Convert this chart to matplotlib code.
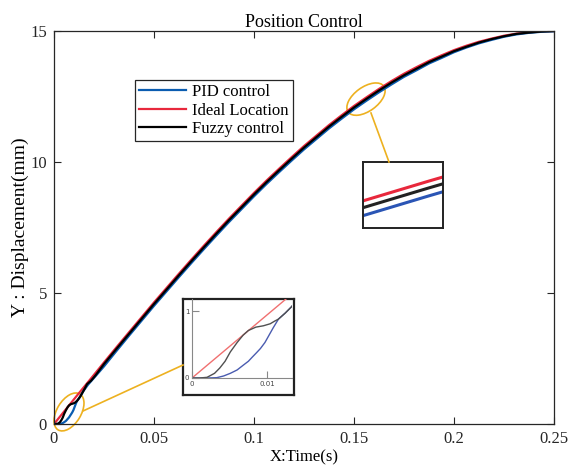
import matplotlib
matplotlib.use("Agg")
import matplotlib.pyplot as plt
from matplotlib.patches import Ellipse
from matplotlib.lines import Line2D
from matplotlib.transforms import ScaledTranslation

plt.rcParams["font.family"] = ["Liberation Serif", "DejaVu Serif"]

# ---- values ----
t_ideal = [0, 0.00625, 0.0125, 0.01875, 0.025, 0.03125, 0.0375, 0.04375,
           0.05, 0.05625, 0.0625, 0.06875, 0.075, 0.08125, 0.0875, 0.09375,
           0.1, 0.10625, 0.1125, 0.11875, 0.125, 0.13125, 0.1375, 0.14375,
           0.15, 0.15625, 0.1625, 0.16875, 0.175, 0.18125, 0.1875, 0.19375,
           0.2, 0.20625, 0.2125, 0.21875, 0.225, 0.23125, 0.2375, 0.24375,
           0.25]
ideal_mm = [0, 0.59, 1.18, 1.76, 2.35, 2.93, 3.50, 4.07,
            4.64, 5.19, 5.74, 6.28, 6.81, 7.33, 7.84, 8.33,
            8.82, 9.29, 9.74, 10.18, 10.61, 11.01, 11.41, 11.78,
            12.14, 12.47, 12.79, 13.09, 13.37, 13.62, 13.86, 14.07,
            14.27, 14.44, 14.59, 14.71, 14.82, 14.90, 14.95, 14.99,
            15.00]

t_fuzzy = [0, 0.001, 0.002, 0.003, 0.0037, 0.0044, 0.0051, 0.006, 0.0068,
           0.0075, 0.0085, 0.0095, 0.0104, 0.011, 0.0115, 0.0124, 0.0132,
           0.015, 0.0165, 0.0185, 0.021, 0.025, 0.03125, 0.0375, 0.04375,
           0.05, 0.05625, 0.0625, 0.06875, 0.075, 0.08125, 0.0875, 0.09375,
           0.1, 0.10625, 0.1125, 0.11875, 0.125, 0.13125, 0.1375, 0.14375,
           0.15, 0.15625, 0.1625, 0.16875, 0.175, 0.18125, 0.1875, 0.19375,
           0.2, 0.20625, 0.2125, 0.21875, 0.225, 0.23125, 0.2375, 0.24375,
           0.25]
fuzzy_mm = [0, 0, 0.01, 0.07, 0.15, 0.25, 0.39, 0.53, 0.64,
            0.71, 0.76, 0.78, 0.81, 0.85, 0.88, 0.97, 1.06,
            1.30, 1.52, 1.65, 1.88, 2.29, 2.87, 3.44, 4.01,
            4.58, 5.13, 5.68, 6.22, 6.75, 7.27, 7.78, 8.27,
            8.76, 9.23, 9.68, 10.12, 10.55, 10.95, 11.35, 11.72,
            12.08, 12.41, 12.73, 13.03, 13.31, 13.56, 13.81, 14.02,
            14.23, 14.40, 14.56, 14.69, 14.80, 14.89, 14.94, 14.98,
            15.00]

t_pid = [0, 0.002, 0.0033, 0.0042, 0.0051, 0.006, 0.0068, 0.0075, 0.008,
         0.0086, 0.0091, 0.0097, 0.0102, 0.0108, 0.0115, 0.0124, 0.0132,
         0.0147, 0.017, 0.02, 0.025, 0.03125, 0.0375, 0.04375,
         0.05, 0.05625, 0.0625, 0.06875, 0.075, 0.08125, 0.0875, 0.09375,
         0.1, 0.10625, 0.1125, 0.11875, 0.125, 0.13125, 0.1375, 0.14375,
         0.15, 0.15625, 0.1625, 0.16875, 0.175, 0.18125, 0.1875, 0.19375,
         0.2, 0.20625, 0.2125, 0.21875, 0.225, 0.23125, 0.2375, 0.24375,
         0.25]
pid_mm = [0, 0, 0.005, 0.03, 0.07, 0.12, 0.19, 0.25, 0.31,
          0.38, 0.44, 0.53, 0.63, 0.75, 0.88, 0.97, 1.06,
          1.26, 1.50, 1.76, 2.20, 2.79, 3.37, 3.94,
          4.51, 5.06, 5.61, 6.15, 6.68, 7.20, 7.71, 8.20,
          8.69, 9.16, 9.61, 10.05, 10.48, 10.88, 11.28, 11.65,
          12.01, 12.34, 12.66, 12.96, 13.25, 13.50, 13.76, 13.97,
          14.19, 14.37, 14.53, 14.66, 14.78, 14.87, 14.93, 14.97,
          14.99]

x_ticks = [0, 0.05, 0.1, 0.15, 0.2, 0.25]
x_ticklabels = ["0", "0.05", "0.1", "0.15", "0.2", "0.25"]
y_ticks = [0, 5, 10, 15]

# zoom windows for the two insets
zoom_start_t = (0, 0.0133)
zoom_start_y = (0, 1.18)
zoom_mid_t = (0.153, 0.157)
zoom_mid_y = (12.06, 12.64)

BLUE = "#0a5cb0"
RED = "#e8283c"
ORANGE = "#edb120"
W, H = 574, 474


def px_box(x0, y0, x1, y1):
    """pixel box (top-left origin) -> figure fraction rect"""
    return [x0 / W, 1 - y1 / H, (x1 - x0) / W, (y1 - y0) / H]


fig = plt.figure(figsize=(W / 100, H / 100), dpi=100)
ax = fig.add_axes(px_box(54, 31, 554, 424))

h_ideal, = ax.plot(t_ideal, ideal_mm, color=RED, lw=1.6)
h_pid, = ax.plot(t_pid, pid_mm, color=BLUE, lw=1.6)
h_fuz, = ax.plot(t_fuzzy, fuzzy_mm, color="black", lw=1.6)

ax.set_xlim(0, 0.25)
ax.set_ylim(0, 15)
ax.set_xticks(x_ticks)
ax.set_xticklabels(x_ticklabels)
ax.set_yticks(y_ticks)
ax.tick_params(direction="in", length=5, width=0.8, top=True, right=True,
               labelsize=12, colors="#262626", pad=5)
for s in ax.spines.values():
    s.set_color("#262626")
    s.set_linewidth(0.9)
ax.set_xlabel("X:Time(s)", fontsize=12, labelpad=2)
ax.set_ylabel("Y : Displacement(mm)", fontsize=14, labelpad=1)
ax.set_title("Position Control", fontsize=13, pad=3)

leg = ax.legend([h_pid, h_ideal, h_fuz],
                ["PID control", "Ideal Location", "Fuzzy control"],
                loc="upper left", bbox_to_anchor=(135 / W, 1 - 80 / H),
                bbox_transform=fig.transFigure, borderaxespad=0,
                fontsize=12, labelspacing=0.15, handlelength=2.8,
                handletextpad=0.4, borderpad=0.25, fancybox=False,
                framealpha=1, edgecolor="#262626")
leg.get_frame().set_linewidth(0.9)

# highlight ellipses (sizes in inches, anchored at data points)
for (tc, yc), w_in, h_in, ang in [((0.0075, 0.46), 0.42, 0.24, 58.6),
                                  ((0.156, 12.40), 0.44, 0.24, 36)]:
    tr = fig.dpi_scale_trans + ScaledTranslation(tc, yc, ax.transData)
    ax.add_patch(Ellipse((0, 0), w_in, h_in, angle=ang, transform=tr,
                         fill=False, ec=ORANGE, lw=1.2, clip_on=False))

# connector lines to the insets
for (xa, ya), (xb, yb) in [((83, 411), (183, 365)), ((371, 113), (389, 162))]:
    fig.add_artist(Line2D([xa / W, xb / W], [1 - ya / H, 1 - yb / H],
                          transform=fig.transFigure, color=ORANGE, lw=1.2))

# inset 1: start of the response
frame1 = fig.add_axes(px_box(183, 299, 294, 395))
frame1.set_xticks([])
frame1.set_yticks([])
for s in frame1.spines.values():
    s.set_linewidth(1.6)
    s.set_color("#222222")
in1 = fig.add_axes(px_box(192, 299, 292, 378))
in1.patch.set_alpha(0)
in1.plot(t_ideal, ideal_mm, color="#f07070", lw=1.0)
in1.plot(t_pid, pid_mm, color="#4a5cb0", lw=1.0)
in1.plot(t_fuzzy, fuzzy_mm, color="#505050", lw=1.0)
in1.set_xlim(*zoom_start_t)
in1.set_ylim(*zoom_start_y)
in1.set_xticks([0, 0.01])
in1.set_xticklabels(["0", "0.01"])
in1.set_yticks([0, 1])
in1.set_yticklabels(["0", "1"])
in1.tick_params(direction="in", length=5, width=0.8, colors="#888888",
                labelsize=5, pad=2)
for lab in in1.get_xticklabels() + in1.get_yticklabels():
    lab.set_family("DejaVu Sans")
    lab.set_color("#444444")
in1.spines["top"].set_visible(False)
in1.spines["right"].set_visible(False)
in1.spines["left"].set_color("#888888")
in1.spines["bottom"].set_color("#888888")

# inset 2: mid-course zoom
in2 = fig.add_axes(px_box(363, 162, 443, 228))
in2.plot(t_ideal, ideal_mm, color=RED, lw=2.2)
in2.plot(t_fuzzy, fuzzy_mm, color="#222222", lw=2.2)
in2.plot(t_pid, pid_mm, color="#2a55b5", lw=2.2)
in2.set_xlim(*zoom_mid_t)
in2.set_ylim(*zoom_mid_y)
in2.set_xticks([])
in2.set_yticks([])
for s in in2.spines.values():
    s.set_linewidth(1.4)
    s.set_color("#222222")

fig.savefig("out.png", dpi=100)
